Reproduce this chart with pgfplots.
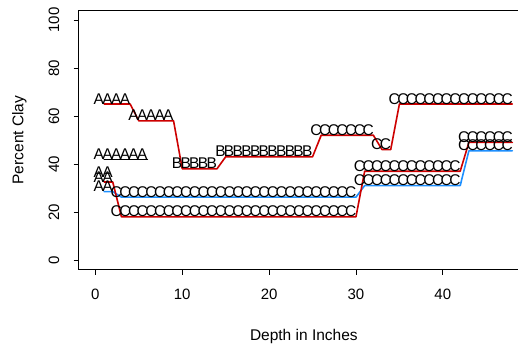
\documentclass[border=0pt]{standalone}
\usepackage{fontspec}
\setmainfont{Liberation Sans}
\usepackage{pgfplots}
\pgfplotsset{compat=1.18}
\usetikzlibrary{calc}
\definecolor{rred}{HTML}{CD0000}
\definecolor{rblue}{HTML}{1E90FF}

\pgfplotstableread{
d v h
1 65 A
2 65 A
3 65 A
4 65 A
5 58 A
6 58 A
7 58 A
8 58 A
9 58 A
10 38 B
11 38 B
12 38 B
13 38 B
14 38 B
15 43 B
16 43 B
17 43 B
18 43 B
19 43 B
20 43 B
21 43 B
22 43 B
23 43 B
24 43 B
25 43 B
26 52 C
27 52 C
28 52 C
29 52 C
30 52 C
31 52 C
32 52 C
33 46 C
34 46 C
35 65 C
36 65 C
37 65 C
38 65 C
39 65 C
40 65 C
41 65 C
42 65 C
43 65 C
44 65 C
45 65 C
46 65 C
47 65 C
48 65 C
}\profA

\pgfplotstableread{
d v h
1 28.5 A
2 28.5 A
3 26.2 C
4 26.2 C
5 26.2 C
6 26.2 C
7 26.2 C
8 26.2 C
9 26.2 C
10 26.2 C
11 26.2 C
12 26.2 C
13 26.2 C
14 26.2 C
15 26.2 C
16 26.2 C
17 26.2 C
18 26.2 C
19 26.2 C
20 26.2 C
21 26.2 C
22 26.2 C
23 26.2 C
24 26.2 C
25 26.2 C
26 26.2 C
27 26.2 C
28 26.2 C
29 26.2 C
30 26.2 C
31 31 C
32 31 C
33 31 C
34 31 C
35 31 C
36 31 C
37 31 C
38 31 C
39 31 C
40 31 C
41 31 C
42 31 C
43 45.5 C
44 45.5 C
45 45.5 C
46 45.5 C
47 45.5 C
48 45.5 C
}\profB

\pgfplotstableread{
d v h
1 32.5 A
2 32.5 A
3 18 C
4 18 C
5 18 C
6 18 C
7 18 C
8 18 C
9 18 C
10 18 C
11 18 C
12 18 C
13 18 C
14 18 C
15 18 C
16 18 C
17 18 C
18 18 C
19 18 C
20 18 C
21 18 C
22 18 C
23 18 C
24 18 C
25 18 C
26 18 C
27 18 C
28 18 C
29 18 C
30 18 C
31 37 C
32 37 C
33 37 C
34 37 C
35 37 C
36 37 C
37 37 C
38 37 C
39 37 C
40 37 C
41 37 C
42 37 C
43 49 C
44 49 C
45 49 C
46 49 C
47 49 C
48 49 C
}\profC

\pgfplotstableread{
d v h
1 42 A
2 42 A
3 42 A
4 42 A
5 42 A
6 42 A
}\profD

\pgfplotstableread{
d v h
1 34.4 A
2 34.4 A
}\profE

\begin{document}
\begin{tikzpicture}
\begin{axis}[
  scale only axis,
  width=450.3pt, height=259.2pt,
  xmin=-1.92, xmax=49.92,
  ymin=-4, ymax=104,
  xtick={0,10,20,30,40},
  ytick={0,20,40,60,80,100},
  tick align=outside,
  major tick length=5pt,
  xtick pos=bottom, ytick pos=left,
  axis line style={line width=0.9pt},
  tick style={line width=0.8pt, black},
  /pgf/number format/assume math mode=true,
  ticklabel style={font=\fontsize{15}{18}\selectfont},
  yticklabel style={rotate=90, anchor=south},
  yticklabel shift=11pt,
  xticklabel style={yshift=-11pt},
  label style={font=\fontsize{15.5}{18}\selectfont},
  xlabel={Depth in Inches},
  ylabel={Percent Clay},
  xlabel style={yshift=-23pt},
  ylabel style={yshift=15pt},
  clip=false,
  every axis plot/.append style={line cap=round, line join=round},
  nodes near coords style={font=\fontsize{15.5}{18}\selectfont, anchor=base, inner sep=0pt, xshift=-5.2pt, text=black},
]
\addplot[rred, line width=1.6pt] table[x=d,y=v] {\profA};
\addplot[rblue, line width=1.6pt] table[x=d,y=v] {\profB};
\addplot[rred, line width=1.6pt] table[x=d,y=v] {\profC};
\addplot[black, line width=1.2pt] table[x=d,y=v] {\profD};
\addplot[draw=none, mark=none, nodes near coords, point meta=explicit symbolic] table[x=d,y=v,meta=h] {\profA};
\addplot[draw=none, mark=none, nodes near coords, point meta=explicit symbolic] table[x=d,y=v,meta=h] {\profB};
\addplot[draw=none, mark=none, nodes near coords, point meta=explicit symbolic] table[x=d,y=v,meta=h] {\profC};
\addplot[draw=none, mark=none, nodes near coords, point meta=explicit symbolic] table[x=d,y=v,meta=h] {\profD};
\addplot[draw=none, mark=none, nodes near coords, point meta=explicit symbolic] table[x=d,y=v,meta=h] {\profE};
\end{axis}
\pgfresetboundingbox
\path[use as bounding box] ($(current axis.south west)+(-78.7pt,-76.4pt)$) rectangle ($(current axis.south west)+(439.3pt,269.6pt)$);
\end{tikzpicture}
\end{document}
